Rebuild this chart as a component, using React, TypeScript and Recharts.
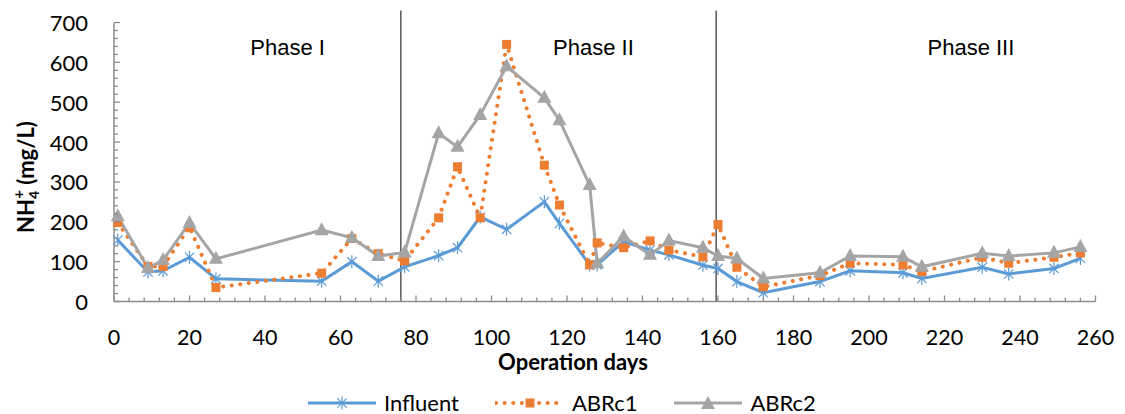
import React from 'react'
import { LineChart, Line, XAxis, YAxis, ReferenceLine, ReferenceDot, Legend } from 'recharts'

// operation days sampled
const days = [1, 9, 13, 20, 27, 55, 63, 70, 77, 86, 91, 97, 104, 114, 118, 126, 128, 135, 142, 147, 156, 160, 165, 172, 187, 195, 209, 214, 230, 237, 249, 256]

// NH4+ (mg/L)
const influent = [154, 74, 77, 111, 57, 51, 100, 51, 87, 115, 135, 212, 181, 250, 196, 92, 92, 150, 129, 117, 91, 83, 50, 22, 50, 77, 72, 58, 86, 69, 83, 108]
const abrc1 = [198, 88, 88, 187, 35, 71, 158, 120, 102, 210, 338, 210, 645, 342, 242, 92, 147, 135, 152, 129, 112, 193, 86, 37, 65, 96, 92, 75, 111, 96, 111, 122]
const abrc2 = [214, 84, 104, 197, 107, 179, 160, 114, 123, 422, 388, 468, 590, 511, 455, 292, 96, 163, 117, 153, 135, 114, 108, 58, 72, 114, 112, 87, 121, 114, 122, 137]

const xMajorTicks = [0, 20, 40, 60, 80, 100, 120, 140, 160, 180, 200, 220, 240, 260]
const yMajorTicks = [0, 100, 200, 300, 400, 500, 600, 700]

// phase boundaries (days) and label positions
const phaseBounds = [76, 159.5]
const phaseNames = ['Phase I', 'Phase II', 'Phase III']
const phaseCenters = [46, 127, 227]

const BLUE = '#5B9BD5'
const ORANGE = '#ED7D31'
const GRAY = '#A5A5A5'
const AXIS = '#8C8C8C'
const FONT = 'Lato, "Open Sans", sans-serif'

const data = days.map((d, i) => ({ day: d, Influent: influent[i], ABRc1: abrc1[i], ABRc2: abrc2[i] }))

const xTicks: number[] = []
for (let v = 0; v <= 260; v += 4) xTicks.push(v)
const yTicks: number[] = []
for (let v = 0; v <= 700; v += 20) yTicks.push(v)

const Star = ({ cx, cy, s = 6.5 }: any) => {
  const d = s * 0.72
  return (
    <g stroke={BLUE} strokeWidth={1.2}>
      <line x1={cx} y1={cy - s} x2={cx} y2={cy + s} />
      <line x1={cx - d} y1={cy - d} x2={cx + d} y2={cy + d} />
      <line x1={cx - d} y1={cy + d} x2={cx + d} y2={cy - d} />
    </g>
  )
}
const Square = ({ cx, cy }: any) => <rect x={cx - 4.5} y={cy - 4.5} width={9} height={9} fill={ORANGE} />
const Triangle = ({ cx, cy }: any) => (
  <polygon points={`${cx},${cy - 8} ${cx - 7},${cy + 5} ${cx + 7},${cy + 5}`} fill={GRAY} />
)

const XTick = (props: any) => {
  const { x, y, payload } = props
  const major = xMajorTicks.includes(payload.value)
  return (
    <g>
      <line x1={x} x2={x} y1={y} y2={y - (major ? 6 : 4)} stroke={AXIS} strokeWidth={1.3} />
      {major && (
        <text x={x} y={y + 35.5} textAnchor="middle" dominantBaseline="central" fontSize={21.5} fontFamily={FONT} fill="#000">
          {payload.value}
        </text>
      )}
    </g>
  )
}

const YTick = (props: any) => {
  const { x, y, payload } = props
  const major = yMajorTicks.includes(payload.value)
  return (
    <g>
      <line x1={x} x2={x + (major ? 6 : 4)} y1={y} y2={y} stroke={AXIS} strokeWidth={1.3} />
      {major && (
        <text x={x - 26} y={y} textAnchor="end" dominantBaseline="central" fontSize={22} fontFamily={FONT} fill="#000">
          {payload.value}
        </text>
      )}
    </g>
  )
}

const YTitle = () => (
  <text transform="translate(34,177) rotate(-90)" textAnchor="middle" fontSize={22} fontWeight="bold" fontFamily={FONT} fill="#000">
    NH<tspan dy={5} fontSize={14}>4</tspan>
    <tspan dx={-8} dy={-15} fontSize={15}>+</tspan>
    <tspan dy={10}> (mg/L)</tspan>
  </text>
)

const XTitle = () => (
  <text x={573} y={361} textAnchor="middle" dominantBaseline="central" fontSize={22} fontWeight="bold" fontFamily={FONT} fill="#000">
    Operation days
  </text>
)

const legendItems = [
  { name: 'Influent', color: BLUE, dash: undefined, width: 3, marker: 'star' },
  { name: 'ABRc1', color: ORANGE, dash: '0.1 8.5', width: 4, marker: 'square' },
  { name: 'ABRc2', color: GRAY, dash: undefined, width: 3, marker: 'triangle' }
]

const LegendContent = () => (
  <div style={{ display: 'flex', alignItems: 'center', paddingLeft: 307, fontFamily: FONT, fontSize: 22 }}>
    {legendItems.map((it) => (
      <div key={it.name} style={{ display: 'flex', alignItems: 'center', marginRight: 36 }}>
        <svg width={70} height={20}>
          <line x1={1} y1={10} x2={69} y2={10} stroke={it.color} strokeWidth={it.width} strokeDasharray={it.dash} strokeLinecap={it.dash ? 'round' : 'butt'} />
          {it.marker === 'star' && <Star cx={35} cy={10} />}
          {it.marker === 'square' && <Square cx={35} cy={10} />}
          {it.marker === 'triangle' && <Triangle cx={35} cy={11} />}
        </svg>
        <span style={{ marginLeft: 7, color: '#000' }}>{it.name}</span>
      </div>
    ))}
  </div>
)

export default function App() {
  return (
    <div style={{ position: 'absolute', left: 0, top: 0, width: 1125, height: 414, background: '#fff' }}>
      <LineChart width={1125} height={414} data={data} margin={{ top: 22.5, right: 29.5, left: 54, bottom: 82.5 }}>
        <XAxis
          dataKey="day"
          type="number"
          domain={[0, 260]}
          ticks={xTicks}
          interval={0}
          tick={<XTick />}
          tickLine={false}
          tickSize={0}
          tickMargin={0}
          height={30}
          axisLine={{ stroke: AXIS, strokeWidth: 1.5 }}
          label={<XTitle />}
        />
        <YAxis
          type="number"
          domain={[0, 700]}
          ticks={yTicks}
          interval={0}
          tick={<YTick />}
          tickLine={false}
          tickSize={0}
          tickMargin={0}
          width={60}
          axisLine={{ stroke: AXIS, strokeWidth: 1.5 }}
          label={<YTitle />}
        />
        {phaseBounds.map((b) => (
          <ReferenceLine
            key={b}
            segment={[{ x: b, y: 0 }, { x: b, y: 730 }]}
            stroke="#000"
            strokeWidth={1}
            ifOverflow="visible"
          />
        ))}
        {phaseNames.map((n, i) => (
          <ReferenceDot
            key={n}
            x={phaseCenters[i]}
            y={638}
            r={0}
            fill="none"
            stroke="none"
            label={{ value: n, position: 'center', fill: '#000', fontSize: 22, fontFamily: '"Liberation Sans", Arial, sans-serif' }}
          />
        ))}
        <Line
          dataKey="Influent"
          stroke={BLUE}
          strokeWidth={3}
          isAnimationActive={false}
          activeDot={false}
          dot={(p: any) => <Star key={`s${p.index}`} cx={p.cx} cy={p.cy} />}
        />
        <Line
          dataKey="ABRc1"
          stroke={ORANGE}
          strokeWidth={4}
          strokeDasharray="0.1 8.5"
          strokeLinecap="round"
          isAnimationActive={false}
          activeDot={false}
          dot={(p: any) => <Square key={`q${p.index}`} cx={p.cx} cy={p.cy} />}
        />
        <Line
          dataKey="ABRc2"
          stroke={GRAY}
          strokeWidth={3}
          isAnimationActive={false}
          activeDot={false}
          dot={(p: any) => <Triangle key={`t${p.index}`} cx={p.cx} cy={p.cy} />}
        />
        <Legend
          layout="horizontal"
          verticalAlign="middle"
          align="center"
          content={<LegendContent />}
          wrapperStyle={{ top: 389, left: 0, width: 1125 }}
        />
      </LineChart>
    </div>
  )
}
